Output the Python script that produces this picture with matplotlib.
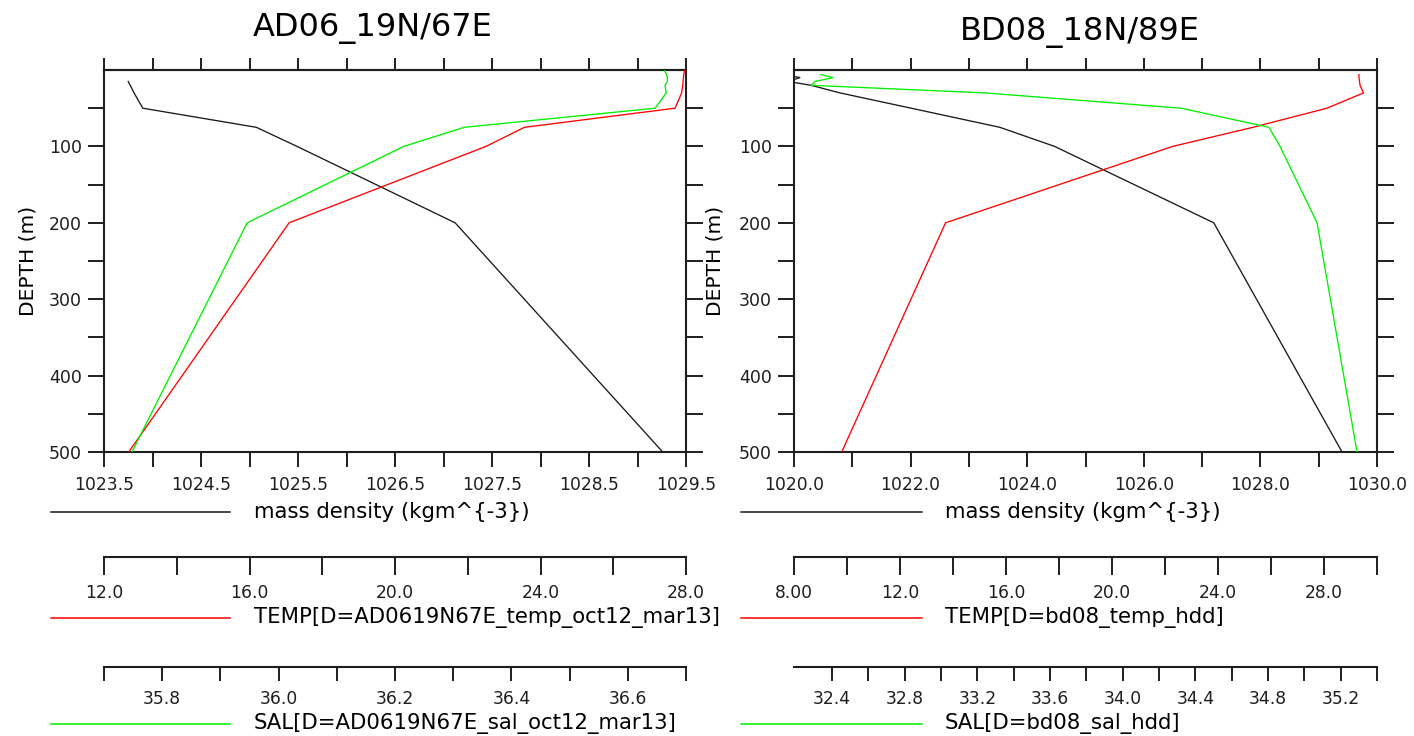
import numpy as np
import matplotlib
matplotlib.use("Agg")
from matplotlib import pyplot as plt   # noqa: E402
from matplotlib.lines import Line2D     # noqa: E402

W, H = 1414, 736
nan = np.nan

# ── data ──────────────────────────────────────────────────────────────────────
AD06_DEPTH = [1, 5, 10, 15, 20, 30, 50, 75, 100, 200, 500]
AD06_DENS = [nan, nan, nan, 1023.75, 1023.77, 1023.81, 1023.90, 1025.07, 1025.49, 1027.12, 1029.26]
AD06_TEMP = [27.96, 27.94, 27.93, 27.92, 27.91, 27.88, 27.70, 23.56, 22.50, 17.09, 12.68]
AD06_SAL = [36.663, 36.666, 36.668, 36.668, 36.664, 36.666, 36.647, 36.319, 36.215, 35.946, 35.748]

BD08_DEPTH = [6, 10, 15, 20, 30, 50, 75, 100, 200, 500]
BD08_DENS = [1019.85, 1020.10, 1019.90, 1020.29, 1020.79, 1022.01, 1023.53, 1024.47, 1027.20, 1029.40]
BD08_TEMP = [29.32, 29.32, 29.34, 29.36, 29.49, 28.11, 25.32, 22.29, 13.72, 9.80]
BD08_SAL = [32.339, 32.405, 32.306, 32.284, 33.242, 34.321, 34.805, 34.866, 35.070, 35.290]

TITLES = ["AD06_19N/67E", "BD08_18N/89E"]
DENS_LABEL = "mass density (kgm^{-3})"
TEMP_LABELS = ["TEMP[D=AD0619N67E_temp_oct12_mar13]", "TEMP[D=bd08_temp_hdd]"]
SAL_LABELS = ["SAL[D=AD0619N67E_sal_oct12_mar13]", "SAL[D=bd08_sal_hdd]"]

AXCOL = "#1e1e1e"
RED, GREEN, BLACK = "#ff0000", "#00f000", "#1a1a1a"

plt.rcParams["font.family"] = ["DejaVu Sans"]
plt.rcParams["axes.edgecolor"] = AXCOL
plt.rcParams["xtick.color"] = AXCOL
plt.rcParams["ytick.color"] = AXCOL


def pt(px):
    return px * 0.72


def labels_for(ticks, shown, fmt="{:.1f}", special=None):
    out = []
    for t in ticks:
        if any(abs(t - s) < 1e-6 for s in shown):
            out.append(special.get(round(t, 4), fmt.format(t)) if special else fmt.format(t))
        else:
            out.append("")
    return out


def extra_axis(ax, x, depth, color, lim, ticks, labels, offset_px, tick_px, pad):
    t = ax.twiny()
    t.plot(x, depth, color=color, lw=0.95)
    t.set_xlim(*lim)
    for s in ("top", "left", "right"):
        t.spines[s].set_visible(False)
    t.spines["bottom"].set_visible(True)
    t.spines["bottom"].set_linewidth(1.5)
    t.spines["bottom"].set_position(("outward", pt(offset_px)))
    t.xaxis.set_ticks_position("bottom")
    t.xaxis.set_label_position("bottom")
    t.set_xticks(ticks)
    t.set_xticklabels(labels)
    t.tick_params(axis="x", direction="out", length=pt(tick_px), width=1.4,
                  labelsize=12.3, pad=pad)
    return t


def legend_key(x0, x1, y, color, text, tx):
    fig.add_artist(Line2D([x0 / W, x1 / W], [1 - y / H, 1 - y / H],
                          transform=fig.transFigure, color=color, lw=1.1))
    fig.text(tx / W, 1 - y / H, text, fontsize=15.3, va="center", ha="left")


def panel(left_px, right_px, title, title_xy, depth, dens, temp, sal,
          dens_lim, dens_ticks, dens_shown, temp_lim, temp_ticks, temp_labels,
          sal_lim, sal_ticks, sal_labels, temp_text, sal_text, key_x, text_x, ylab_x):
    top_px, bot_px = 70, 452
    ax = fig.add_axes([left_px / W, 1 - bot_px / H, (right_px - left_px) / W, (bot_px - top_px) / H])
    ax.plot(dens, depth, color=BLACK, lw=0.95)
    ax.set_xlim(*dens_lim)
    ax.set_ylim(500, 0)
    for s in ax.spines.values():
        s.set_linewidth(1.5)

    yt = np.arange(50, 501, 50)
    ax.set_yticks(yt)
    ax.set_yticklabels([str(int(v)) if v % 100 == 0 else "" for v in yt])
    ax.tick_params(axis="y", direction="out", length=pt(16.5), width=1.4,
                   left=True, right=True, labelsize=12.5, pad=4)
    ax.set_xticks(dens_ticks)
    ax.set_xticklabels(labels_for(dens_ticks, dens_shown))
    ax.tick_params(axis="x", direction="out", length=pt(15), width=1.4,
                   labelsize=12.3, pad=6.5)
    top = ax.secondary_xaxis("top")
    top.set_xticks(dens_ticks)
    top.tick_params(direction="out", length=pt(12), width=1.4, labeltop=False)
    top.spines["top"].set_linewidth(1.5)

    # right edge of the rotated label sits at ylab_x
    ax.set_ylabel("DEPTH (m)", fontsize=14.5)
    ax.yaxis.set_label_coords((ylab_x - left_px) / (right_px - left_px), 0.5)

    extra_axis(ax, temp, depth, RED, temp_lim, temp_ticks, temp_labels, 105, 17.5, 6.5)
    extra_axis(ax, sal, depth, GREEN, sal_lim, sal_ticks, sal_labels, 215, 14, 6.5)

    fig.text(title_xy[0] / W, 1 - title_xy[1] / H, title, fontsize=23,
             ha="center", va="center")

    legend_key(key_x[0], key_x[1], 512, BLACK, DENS_LABEL, text_x)
    legend_key(key_x[0], key_x[1], 618, RED, temp_text, text_x)
    legend_key(key_x[0], key_x[1], 724, GREEN, sal_text, text_x)


fig = plt.figure(figsize=(W / 100, H / 100), dpi=100)

# left panel: AD06
d_ticks = np.arange(1023.5, 1029.51, 0.5)
t_ticks = np.arange(12, 28.01, 2)
s_ticks = np.arange(35.7, 36.71, 0.1)
panel(104, 686, TITLES[0], (373, 28), AD06_DEPTH, AD06_DENS, AD06_TEMP, AD06_SAL,
      (1023.5, 1029.5), d_ticks, np.arange(1023.5, 1029.51, 1.0),
      (12, 28), t_ticks, labels_for(t_ticks, np.arange(12, 28.01, 4)),
      (35.7, 36.7), s_ticks, labels_for(s_ticks, np.arange(35.8, 36.61, 0.2)),
      TEMP_LABELS[0], SAL_LABELS[0], (51, 230), 254, 37)

# right panel: BD08
d_ticks = np.arange(1020, 1030.01, 1.0)
t_ticks = np.arange(8, 30.01, 2)
s_ticks = np.arange(32.4, 35.41, 0.2)
panel(794, 1377, TITLES[1], (1080, 32), BD08_DEPTH, BD08_DENS, BD08_TEMP, BD08_SAL,
      (1020, 1030), d_ticks, np.arange(1020, 1030.01, 2.0),
      (8, 30), t_ticks, labels_for(t_ticks, np.arange(8, 28.01, 4), special={8.0: "8.00"}),
      (32.19, 35.4), s_ticks, labels_for(s_ticks, np.arange(32.4, 35.21, 0.4)),
      TEMP_LABELS[1], SAL_LABELS[1], (741, 922), 945, 725)

fig.savefig("out.png", dpi=100)
